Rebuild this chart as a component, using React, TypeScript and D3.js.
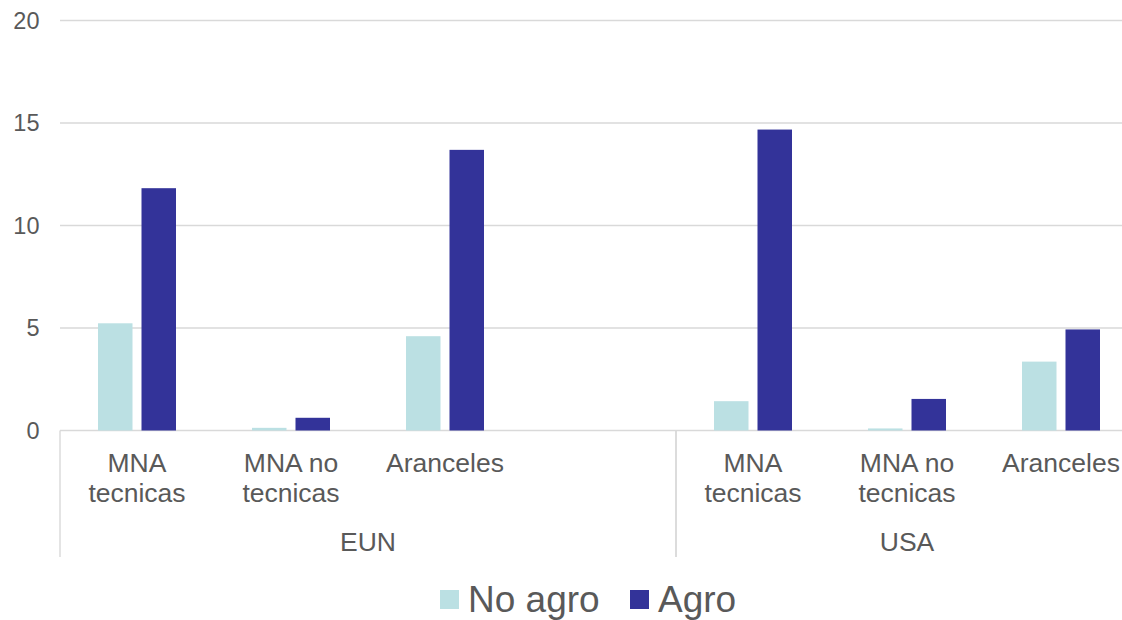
import React from "react";
import * as d3 from "d3";

const categoryLabels: string[][] = [
  ["MNA", "tecnicas"],
  ["MNA no", "tecnicas"],
  ["Aranceles"],
  [],
  ["MNA", "tecnicas"],
  ["MNA no", "tecnicas"],
  ["Aranceles"],
];
const categoryGroup = ["EUN", "EUN", "EUN", "EUN", "USA", "USA", "USA"];
const groups = ["EUN", "USA"];
const seriesNames = ["No agro", "Agro"];
const noAgro: (number | null)[] = [5.23, 0.13, 4.6, null, 1.43, 0.1, 3.36];
const agro: (number | null)[] = [11.82, 0.62, 13.69, null, 14.68, 1.54, 4.93];
const yTicks = [0, 5, 10, 15, 20];
const colors = ["#bbe0e3", "#333399"];

const W = 1122;
const H = 620;
const FONT = "'Liberation Sans', Arial, sans-serif";
const TXT = "#595959";
const GRID = "#d9d9d9";

export default function App() {
  const idx = categoryLabels.map((_, i) => String(i));
  const x = d3.scaleBand<string>().domain(idx).range([60, 1138]).padding(0);
  const y = d3.scaleLinear().domain([0, 20]).range([430.5, 20.5]);
  const x1 = d3
    .scaleBand<string>()
    .domain(seriesNames)
    .range([-39, 39])
    .paddingInner(9 / 43.5)
    .paddingOuter(0);
  const series = [noAgro, agro];
  const axisBottom = 557;

  const groupExtents = groups.map((g) => {
    const ids = idx.filter((_, i) => categoryGroup[i] === g);
    const x0 = x(ids[0])!;
    const xEnd = x(ids[ids.length - 1])! + x.bandwidth();
    return { g, x0, xEnd };
  });

  return (
    <svg
      width={W}
      height={H}
      style={{ position: "absolute", left: 0, top: 0, background: "#fff" }}
      fontFamily={FONT}
    >
      {yTicks.map((t) => (
        <g key={t}>
          <line x1={60} x2={W} y1={y(t)} y2={y(t)} stroke={GRID} strokeWidth={1.4} />
          <text
            x={39.5}
            y={y(t)}
            textAnchor="end"
            dominantBaseline="central"
            fontSize={23.5}
            fill={TXT}
          >
            {t}
          </text>
        </g>
      ))}
      {series.map((vals, si) =>
        vals.map((v, i) =>
          v == null ? null : (
            <rect
              key={si + "-" + i}
              x={x(String(i))! + x.bandwidth() / 2 + x1(seriesNames[si])!}
              y={y(v)}
              width={x1.bandwidth()}
              height={y(0) - y(v)}
              fill={colors[si]}
            />
          )
        )
      )}
      {groupExtents.map((ge) => (
        <g key={ge.g}>
          <line x1={ge.x0} x2={ge.x0} y1={y(0)} y2={axisBottom} stroke={GRID} strokeWidth={1.4} />
          <line x1={ge.xEnd} x2={ge.xEnd} y1={y(0)} y2={axisBottom} stroke={GRID} strokeWidth={1.4} />
          <text
            x={(ge.x0 + ge.xEnd) / 2}
            y={551}
            textAnchor="middle"
            fontSize={26.5}
            fill={TXT}
          >
            {ge.g}
          </text>
        </g>
      ))}
      {categoryLabels.map((lines, i) => (
        <text
          key={"c" + i}
          x={x(String(i))! + x.bandwidth() / 2}
          y={472}
          textAnchor="middle"
          fontSize={26.5}
          fill={TXT}
        >
          {lines.map((ln, li) => (
            <tspan key={li} x={x(String(i))! + x.bandwidth() / 2} dy={li === 0 ? 0 : 30}>
              {ln}
            </tspan>
          ))}
        </text>
      ))}
      {seriesNames.map((s, si) => {
        const lx = si === 0 ? 440 : 630;
        return (
          <g key={s}>
            <rect x={lx} y={590} width={19} height={19} fill={colors[si]} />
            <text x={lx + 28} y={611.5} fontSize={37} fill={TXT}>
              {s}
            </text>
          </g>
        );
      })}
    </svg>
  );
}
